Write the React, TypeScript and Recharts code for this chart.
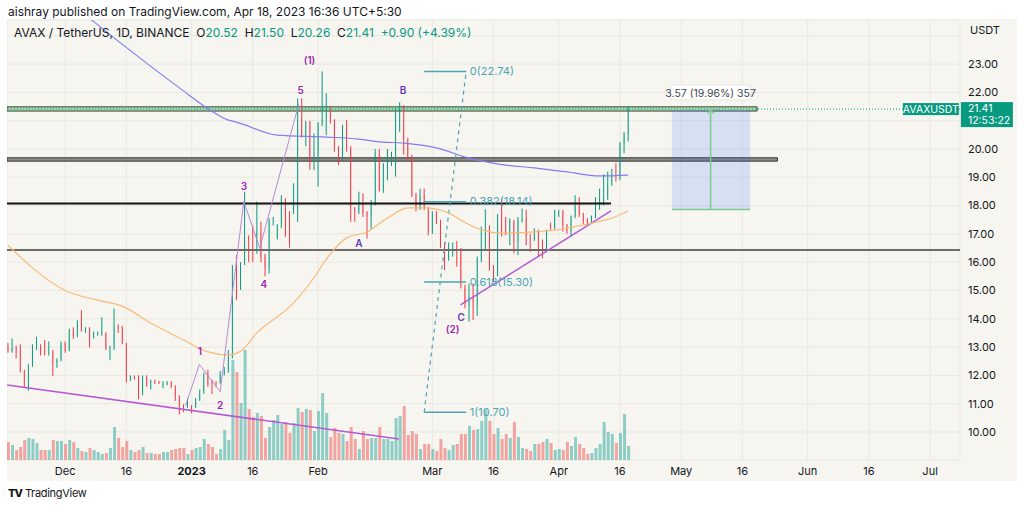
import React from "react";
import {
  Bar,
  CartesianGrid,
  Cell,
  ComposedChart,
  Line,
  ReferenceArea,
  ReferenceDot,
  ReferenceLine,
  XAxis,
  YAxis,
} from "recharts";

// daily candles, index 0 = 17 Nov 2022, index 152 = 18 Apr 2023
const opens = [
  13.01, 12.87, 12.98, 12.89, 12.19, 11.84, 12.36, 13.01, 13.06, 12.84,
  12.78, 12.84, 12.45, 12.54, 13.13, 12.89, 13.6, 13.4, 13.89, 13.6,
  13.66, 13.36, 13.45, 13.48, 13.5, 12.95, 13.0, 13.74, 13.69, 13.13,
  11.86, 11.95, 11.95, 11.39, 11.95, 11.72, 11.8, 11.78, 11.66, 11.72,
  11.74, 11.62, 11.25, 10.95, 10.92, 10.92, 10.93, 11.19, 11.42, 12.07,
  11.78, 11.74, 11.78, 12.07, 12.19, 12.72, 15.84, 15.43, 15.96, 16.9,
  16.78, 16.73, 17.08, 16.2, 15.78, 17.43, 16.84, 17.31, 17.93, 17.79,
  17.79, 17.84, 21.14, 20.49, 20.97, 19.77, 19.79, 20.91, 21.08, 21.32,
  21.02, 20.08, 19.67, 20.79, 20.08, 17.9, 17.79, 18.02, 17.79, 17.61,
  18.14, 19.85, 18.55, 19.43, 19.5, 19.79, 20.79, 20.97, 20.32, 19.73,
  18.37, 17.9, 18.37, 17.9, 17.08, 17.73, 17.45, 16.62, 16.14, 16.45,
  16.5, 16.45, 15.1, 14.45, 14.78, 14.49, 16.14, 16.49, 17.14, 15.84,
  15.55, 17.61, 17.5, 17.02, 17.43, 16.73, 17.49, 17.55, 16.9, 16.84,
  17.08, 16.73, 16.5, 17.31, 17.2, 17.7, 17.79, 17.3, 17.08, 17.62,
  17.98, 17.7, 17.5, 17.4, 17.6, 17.9, 18.1, 18.26, 18.8, 19.14,
  19.02, 20.14, 20.52,
];
const highs = [
  13.15, 13.31, 13.05, 13.1, 12.2, 12.4, 13.1, 13.36, 13.1, 13.25,
  13.2, 12.9, 12.6, 13.2, 13.2, 13.65, 13.7, 13.95, 14.3, 13.7,
  13.7, 13.55, 13.55, 14.05, 13.52, 13.05, 14.36, 13.8, 13.75, 13.15,
  12.0, 12.0, 12.0, 12.0, 12.0, 11.85, 11.85, 11.8, 11.8, 11.8,
  11.8, 11.65, 11.3, 10.98, 11.2, 10.95, 11.2, 11.5, 12.1, 12.2,
  11.85, 11.8, 12.15, 12.3, 12.9, 15.9, 16.25, 16.0, 18.49, 16.95,
  17.3, 18.14, 17.43, 16.3, 17.55, 17.6, 17.35, 18.37, 18.26, 17.8,
  18.79, 21.79, 21.79, 21.0, 21.0, 20.55, 20.95, 22.74, 21.97, 21.5,
  21.05, 20.1, 20.85, 21.02, 20.1, 17.95, 18.49, 18.43, 17.8, 18.2,
  20.0, 20.0, 19.5, 20.0, 19.9, 21.45, 21.65, 21.55, 20.4, 19.8,
  18.45, 18.6, 18.6, 17.95, 17.8, 17.8, 17.5, 16.7, 16.7, 16.7,
  16.75, 16.5, 15.2, 15.25, 15.25, 16.2, 17.26, 17.87, 17.3, 15.9,
  17.7, 18.26, 17.6, 17.55, 17.5, 17.6, 17.9, 17.85, 17.0, 17.2,
  17.15, 16.8, 17.15, 17.4, 17.85, 17.85, 17.85, 17.35, 17.65, 18.37,
  18.3, 17.75, 17.55, 17.65, 18.3, 18.6, 19.1, 19.2, 19.3, 19.5,
  20.25, 20.6, 21.5,
];
const lows = [
  12.8, 12.8, 12.6, 12.1, 11.6, 11.46, 12.3, 12.9, 12.7, 12.7,
  12.7, 11.98, 12.27, 12.5, 12.8, 12.85, 13.3, 13.35, 13.55, 13.5,
  12.99, 13.3, 13.4, 13.4, 12.9, 12.54, 12.9, 13.5, 13.1, 11.75,
  11.8, 11.85, 11.15, 11.3, 11.6, 11.5, 11.7, 11.7, 11.55, 11.65,
  11.55, 11.1, 10.62, 10.7, 10.85, 10.66, 10.85, 11.1, 11.35, 11.6,
  11.34, 11.6, 11.7, 12.0, 12.1, 12.6, 14.66, 15.02, 15.9, 16.0,
  16.0, 16.3, 16.0, 15.5, 15.6, 17.3, 16.8, 17.2, 16.9, 16.51,
  17.7, 17.43, 20.4, 20.1, 19.26, 19.26, 18.67, 20.8, 20.49, 20.9,
  19.9, 19.43, 19.6, 19.9, 17.43, 17.43, 17.7, 17.6, 16.84, 17.14,
  18.0, 18.5, 18.45, 18.9, 19.4, 19.02, 20.6, 19.8, 19.6, 18.3,
  17.8, 17.85, 17.85, 16.95, 17.0, 17.35, 16.5, 15.72, 16.05, 16.2,
  15.84, 15.07, 14.37, 13.9, 13.96, 14.1, 16.0, 16.4, 15.7, 15.3,
  15.5, 16.9, 16.95, 16.6, 16.31, 16.25, 17.4, 16.6, 16.37, 16.75,
  16.2, 16.14, 16.4, 17.15, 17.15, 17.6, 17.08, 17.0, 16.9, 17.55,
  17.6, 17.35, 17.3, 17.35, 17.55, 17.85, 18.0, 18.2, 18.7, 18.85,
  18.9, 19.85, 20.26,
];
const closes = [
  12.87, 12.98, 12.89, 12.19, 11.89, 12.36, 13.01, 13.06, 12.84, 12.78,
  12.84, 12.45, 12.54, 13.13, 12.89, 13.6, 13.4, 13.89, 13.6, 13.66,
  13.36, 13.48, 13.5, 13.5, 12.95, 13.0, 13.74, 13.66, 13.13, 11.84,
  11.95, 11.89, 11.54, 11.95, 11.66, 11.81, 11.77, 11.72, 11.72, 11.74,
  11.62, 11.19, 11.01, 10.84, 10.95, 10.89, 11.15, 11.42, 11.95, 11.72,
  11.72, 11.72, 12.07, 12.2, 12.72, 15.84, 15.43, 15.96, 16.9, 16.78,
  16.73, 17.08, 16.2, 15.78, 17.43, 17.49, 17.31, 17.93, 16.96, 16.96,
  17.96, 21.14, 20.49, 20.97, 19.73, 19.81, 20.91, 21.08, 21.26, 21.02,
  20.08, 19.67, 20.79, 20.08, 17.9, 17.79, 18.0, 17.73, 17.61, 18.14,
  19.85, 18.55, 19.43, 19.5, 19.79, 20.79, 20.97, 20.32, 19.73, 18.37,
  17.9, 18.37, 17.9, 17.08, 17.73, 17.45, 16.62, 16.14, 16.5, 16.5,
  16.45, 15.31, 14.55, 14.78, 14.49, 16.14, 16.49, 17.14, 15.84, 15.55,
  17.6, 16.96, 17.02, 17.49, 16.73, 17.49, 17.55, 16.9, 16.84, 17.08,
  16.67, 16.45, 17.08, 17.26, 17.7, 17.79, 17.3, 17.1, 17.62, 17.98,
  17.7, 17.45, 17.37, 17.6, 17.9, 18.1, 18.26, 18.8, 19.14, 19.02,
  20.14, 20.51, 21.41,
];
// volume, relative units
const volumes = [
  18, 15, 10, 13, 20, 22, 21, 17, 10, 10,
  10, 20, 19, 19, 16, 20, 18, 12, 9, 8,
  12, 10, 8, 6, 7, 12, 33, 22, 13, 19,
  10, 8, 10, 13, 7, 7, 6, 6, 8, 8,
  10, 11, 12, 12, 6, 10, 12, 13, 21, 16,
  13, 6, 11, 30, 20, 100, 88, 57, 110, 51,
  43, 47, 44, 22, 33, 40, 45, 36, 38, 27,
  37, 52, 48, 51, 50, 29, 49, 67, 47, 23,
  32, 27, 26, 19, 33, 21, 11, 29, 21, 22,
  22, 33, 21, 21, 19, 42, 44, 54, 25, 29,
  26, 11, 16, 16, 11, 9, 21, 12, 10, 15,
  16, 26, 26, 34, 30, 31, 39, 50, 39, 26,
  32, 21, 26, 22, 38, 23, 12, 11, 9, 16,
  16, 18, 21, 17, 10, 11, 10, 18, 14, 23,
  16, 12, 6, 7, 12, 16, 38, 28, 26, 17,
  27, 46, 14,
];

// moving averages, [day index, price]
const maBlue = [
  [0, 27.0], [10, 25.8], [21, 24.5], [33, 23.14], [42, 22.16], [49.5, 21.38],
  [54, 21.02], [56, 20.95], [66, 20.49], [78, 20.42], [86, 20.35], [91, 20.25],
  [97, 20.21], [105, 20.04], [113, 19.68], [121, 19.45], [129, 19.33],
  [137, 19.19], [145, 19.05], [152, 19.08],
];
const maOrange = [
  [0, 16.6], [6, 15.8], [14, 15.0], [22, 14.66], [28, 14.45], [35, 13.85],
  [43, 13.25], [49, 12.83], [54, 12.72], [57, 12.85], [61, 13.5], [70, 14.56],
  [75, 15.45], [78, 16.1], [83, 16.86], [88, 17.07], [93, 17.56], [98, 17.92],
  [102, 17.92], [108, 17.74], [112, 17.4], [116, 17.14], [121, 17.03],
  [129, 17.07], [137, 17.2], [143, 17.38], [148, 17.56], [152, 17.81],
];

const wavePath = [[43.5, 10.92], [46.9, 12.39], [52, 11.42], [57.8, 18.14], [61.7, 16.5], [71.3, 21.6]];
const waveLabels = [
  { t: "1", i: 47, p: 12.83, k: "n" },
  { t: "2", i: 52, p: 10.95, k: "n" },
  { t: "3", i: 57.8, p: 18.67, k: "n" },
  { t: "4", i: 62.7, p: 15.22, k: "n" },
  { t: "5", i: 71.7, p: 22.08, k: "n" },
  { t: "(1)", i: 73.9, p: 23.11, k: "n" },
  { t: "A", i: 86, p: 16.65, k: "l" },
  { t: "B", i: 96.8, p: 22.05, k: "l" },
  { t: "C", i: 111.1, p: 14.06, k: "l" },
  { t: "(2)", i: 109, p: 13.62, k: "n" },
];

const downTrend = [[-0.2, 11.66], [95.8, 9.75]];
const upTrend = [[110.9, 14.49], [147.8, 17.81]];

const fibLevels = [
  { r: "0", v: 22.74 },
  { r: "0.382", v: 18.14 },
  { r: "0.618", v: 15.3 },
  { r: "1", v: 10.7 },
];
const fibSpan = [102, 112.3];

const timeTicks = [14, 29, 45, 60, 76, 104, 119, 135, 150, 165, 180, 196, 211, 226];
const timeLabels = ["Dec", "16", "2023", "16", "Feb", "Mar", "16", "Apr", "16", "May", "16", "Jun", "16", "Jul"];
const priceTicks = [10, 11, 12, 13, 14, 15, 16, 17, 18, 19, 20, 21, 22, 23, 24];
// labels covered by the USDT caption and the last-price box
const hiddenPriceLabels = [21, 24];

const X_DOMAIN = [-0.245, 233.33];
const Y_DOMAIN = [9.011, 24.558];
const LAST_IDX = 233.3;

const UP = "#089981";
const DOWN = "#f23645";
const FIB = "#4aa5b5";
const FONT = "Inter, 'Noto Sans', Roboto, sans-serif";

function Candle(props: any) {
  const { x, y, width, height, payload } = props;
  if (!payload) return null;
  const { o, h, l, c } = payload;
  const top = Math.min(y, y + height);
  const span = Math.abs(height);
  const k = h > l ? span / (h - l) : 0;
  const py = (v: number) => top + (h - v) * k;
  const col = c >= o ? UP : DOWN;
  const cx = x + width / 2;
  const b1 = py(Math.max(o, c));
  const b2 = py(Math.min(o, c));
  return (
    <g>
      <line x1={cx} x2={cx} y1={top} y2={top + span} stroke={col} strokeWidth={1} />
      <rect x={x} y={b1} width={width} height={Math.max(1, b2 - b1)} fill={col} />
    </g>
  );
}

const textShape = (txt: string, color: string, size = 11, anchor = "middle", weight = 600) =>
  (p: any) => (
    <text x={p.cx} y={p.cy} dy="0.35em" textAnchor={anchor} fill={color} fontSize={size} fontWeight={weight}>
      {txt}
    </text>
  );

export default function App() {
  const rows = opens.map((o, i) => ({
    i,
    o,
    h: highs[i],
    l: lows[i],
    c: closes[i],
    hl: [lows[i], highs[i]],
    vol: volumes[i],
  }));
  const toPts = (a: number[][]) => a.map(([i, v]) => ({ i, v }));
  const last = rows[rows.length - 1];

  return (
    <div style={{ position: "fixed", left: 0, top: 0, width: 1024, height: 507, background: "#fff", fontFamily: FONT, color: "#131722" }}>
      <div style={{ position: "absolute", left: 8, top: 4, fontSize: 12, whiteSpace: "nowrap" }}>
        aishray published on TradingView.com, Apr 18, 2023 16:36 UTC+5:30
      </div>

      <div style={{ position: "absolute", left: 7, top: 19, width: 1010, height: 462, background: "#f6f5f0" }}>
        <ComposedChart width={1010} height={462} data={rows} margin={{ top: 1, right: 0, bottom: 0, left: 0 }}>
          <CartesianGrid stroke="#e9e8e3" />
          <XAxis
            dataKey="i"
            type="number"
            domain={X_DOMAIN}
            allowDataOverflow
            ticks={timeTicks}
            interval={0}
            height={21}
            axisLine={false}
            tickLine={false}
            tickSize={0}
            tickMargin={0}
            tick={(p: any) => {
              const n = timeTicks.indexOf(p.payload.value);
              const t = timeLabels[n];
              return (
                <text x={p.x} y={p.y + 11} dy="0.35em" textAnchor="middle" fontSize={11} fill="#131722" fontWeight={t === "2023" ? 700 : 400}>
                  {t}
                </text>
              );
            }}
          />
          <XAxis xAxisId="v" dataKey="i" type="number" domain={X_DOMAIN} allowDataOverflow hide />
          <YAxis
            orientation="right"
            type="number"
            domain={Y_DOMAIN}
            allowDataOverflow
            ticks={priceTicks}
            interval={0}
            width={57}
            axisLine={false}
            tickLine={false}
            tickSize={0}
            tickMargin={8}
            tick={(p: any) =>
              hiddenPriceLabels.includes(p.payload.value) ? <g /> : (
                <text x={p.x} y={p.y} dy="0.35em" textAnchor="start" fontSize={11} fill="#131722">
                  {Number(p.payload.value).toFixed(2)}
                </text>
              )
            }
          />
          <YAxis yAxisId="v" type="number" domain={[0, 440]} hide />

          <Bar xAxisId="v" yAxisId="v" dataKey="vol" barSize={3} isAnimationActive={false}>
            {rows.map((r) => (
              <Cell key={r.i} fill={r.c >= r.o ? "#26a69a" : "#ef5350"} fillOpacity={0.5} />
            ))}
          </Bar>

          {/* zones */}
          <ReferenceArea x1={X_DOMAIN[0]} x2={183.6} y1={21.34} y2={21.49} fill="#a6d8a8" fillOpacity={1} stroke="#3d463e" strokeWidth={1} />
          <ReferenceArea x1={X_DOMAIN[0]} x2={188.6} y1={19.57} y2={19.69} fill="#8c8c86" fillOpacity={1} stroke="#3a3a38" strokeWidth={1} />
          <ReferenceLine segment={[{ x: X_DOMAIN[0], y: 18.07 }, { x: 147.8, y: 18.07 }]} stroke="#111" strokeWidth={2} />
          <ReferenceLine y={16.43} stroke="#6b6b6b" strokeWidth={2} />
          <ReferenceLine y={last.c} stroke={UP} strokeWidth={1} strokeDasharray="1 2" />

          {/* measure tool */}
          <ReferenceArea x1={162.7} x2={181.9} y1={17.86} y2={21.39} fill="#2962ff" fillOpacity={0.15} stroke="none" />
          <ReferenceLine segment={[{ x: 172.2, y: 17.86 }, { x: 172.2, y: 21.39 }]} stroke="#7cc98a" strokeWidth={1.5} />
          <ReferenceLine segment={[{ x: 162.7, y: 17.86 }, { x: 181.9, y: 17.86 }]} stroke="#7cc98a" strokeWidth={1.5} />
          <ReferenceDot
            x={172.2}
            y={21.39}
            r={0}
            shape={(p: any) => (
              <polyline points={`${p.cx - 3},${p.cy + 4} ${p.cx},${p.cy} ${p.cx + 3},${p.cy + 4}`} fill="none" stroke="#7cc98a" strokeWidth={1.2} />
            )}
          />
          <ReferenceDot
            x={172.2}
            y={21.98}
            r={0}
            shape={(p: any) => (
              <g>
                <rect x={p.cx - 40} y={p.cy - 8} width={80} height={15} rx={3} fill="#fff" stroke="#e6e6e6" />
                <text x={p.cx} y={p.cy} dy="0.35em" textAnchor="middle" fontSize={10.5} fill="#434651">
                  3.57 (19.96%) 357
                </text>
              </g>
            )}
          />

          {/* trend lines */}
          <ReferenceLine segment={toPts(downTrend).map((d) => ({ x: d.i, y: d.v }))} stroke="#b45ad2" strokeWidth={1.5} />
          <ReferenceLine segment={toPts(upTrend).map((d) => ({ x: d.i, y: d.v }))} stroke="#b45ad2" strokeWidth={1.5} />

          {/* fibonacci */}
          {fibLevels.map((f) => (
            <ReferenceLine key={f.r} segment={[{ x: fibSpan[0], y: f.v }, { x: fibSpan[1], y: f.v }]} stroke={FIB} strokeWidth={1.5} />
          ))}
          <ReferenceLine
            segment={[{ x: fibSpan[0], y: fibLevels[3].v }, { x: fibSpan[1], y: fibLevels[0].v }]}
            stroke={FIB}
            strokeWidth={1.2}
            strokeDasharray="4 4"
          />
          {fibLevels.map((f) => (
            <ReferenceDot key={"t" + f.r} x={113.2} y={f.v} r={0} shape={textShape(`${f.r}(${f.v.toFixed(2)})`, FIB, 11, "start", 400)} />
          ))}

          <Line data={toPts(maBlue)} dataKey="v" type="monotone" stroke="#7f7ff0" strokeWidth={1.2} dot={false} isAnimationActive={false} />
          <Line data={toPts(maOrange)} dataKey="v" type="monotone" stroke="#f9b977" strokeWidth={1.2} dot={false} isAnimationActive={false} />
          <Line data={toPts(wavePath)} dataKey="v" type="linear" stroke="#b48ad8" strokeWidth={1} dot={false} isAnimationActive={false} />

          <Bar dataKey="hl" barSize={3} shape={<Candle />} isAnimationActive={false} />

          {waveLabels.map((w) => (
            <ReferenceDot key={w.t + w.i} x={w.i} y={w.p} r={0} shape={textShape(w.t, w.k === "n" ? "#9c27b0" : "#673ab7", 10)} />
          ))}

          {/* last price labels */}
          <ReferenceDot
            x={LAST_IDX}
            y={last.c}
            r={0}
            shape={(p: any) => (
              <g>
                <rect x={p.cx - 57} y={p.cy - 6} width={56} height={12} fill={UP} />
                <text x={p.cx - 29} y={p.cy} dy="0.35em" textAnchor="middle" fontSize={10.5} fill="#fff">
                  AVAXUSDT
                </text>
                <rect x={p.cx + 1} y={p.cy - 7} width={52} height={25} fill={UP} />
                <text x={p.cx + 8} y={p.cy - 0.5} dy="0.35em" fontSize={10.5} fill="#fff">
                  {last.c.toFixed(2)}
                </text>
                <text x={p.cx + 8} y={p.cy + 11.5} dy="0.35em" fontSize={10.5} fill="#fff">
                  12:53:22
                </text>
              </g>
            )}
          />
        </ComposedChart>

        <div style={{ position: "absolute", left: 7, top: 6, fontSize: 12, whiteSpace: "nowrap" }}>
          AVAX / TetherUS, 1D, BINANCE&nbsp;&nbsp;O<span style={{ color: UP }}>20.52</span>&nbsp;&nbsp;H
          <span style={{ color: UP }}>21.50</span>&nbsp;&nbsp;L<span style={{ color: UP }}>20.26</span>&nbsp;&nbsp;C
          <span style={{ color: UP }}>21.41&nbsp;&nbsp;+0.90 (+4.39%)</span>
        </div>
        <div style={{ position: "absolute", left: 961, top: 4, fontSize: 11, background: "#f6f5f0", padding: "0 2px" }}>USDT</div>
      </div>

      <div style={{ position: "absolute", left: 8, top: 486, fontSize: 11, display: "flex", alignItems: "center", gap: 3 }}>
        <span style={{ fontWeight: 800, letterSpacing: -1 }}>TV</span>
        <span style={{ letterSpacing: -0.3 }}>TradingView</span>
      </div>
    </div>
  );
}
